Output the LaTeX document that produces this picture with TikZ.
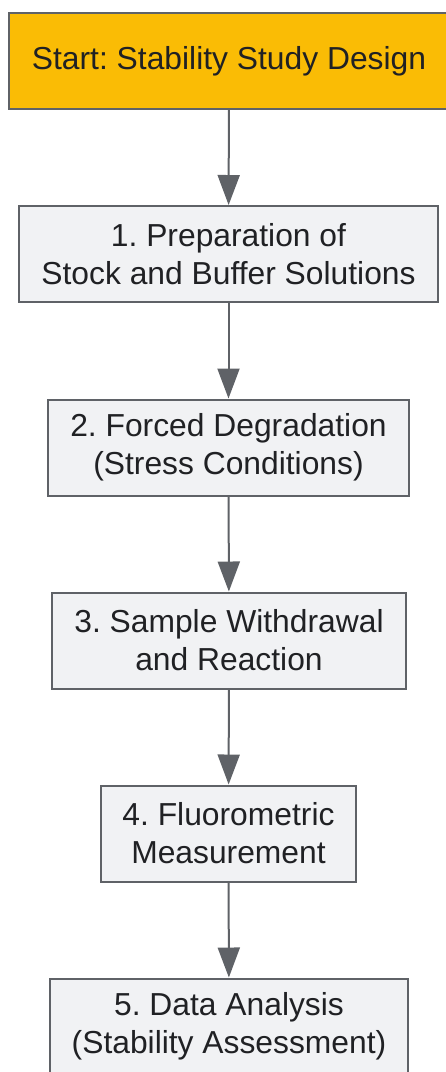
\documentclass[tikz,border=0pt]{standalone}
\usepackage{fontspec}
\setmainfont{Liberation Sans}
\frenchspacing
\definecolor{startfill}{HTML}{FABC05}
\definecolor{boxfill}{HTML}{F1F2F4}
\definecolor{edgegray}{HTML}{5F6267}
\definecolor{textdark}{HTML}{202124}
\usetikzlibrary{arrows.meta}
\begin{document}
\begin{tikzpicture}[
    stepbox/.style={draw=edgegray, line width=2pt, fill=boxfill, align=center, text=textdark,
        minimum height=96pt, inner sep=0pt, font=\fontsize{31.8}{38}\selectfont},
    startbox/.style={stepbox, fill=startfill},
    flow/.style={-{Triangle[length=30pt, width=22pt]}, draw=edgegray, fill=edgegray, line width=2pt}
]
    \useasboundingbox (0,0) rectangle (446pt,-1072pt);
    \node[startbox, minimum width=440pt] (start) at (229pt, -61pt) {Start: Stability Study Design};
    \node[stepbox, minimum width=419pt] (prep) at (228.5pt, -254pt) {1. Preparation of\\Stock and Buffer Solutions};
    \node[stepbox, minimum width=361pt] (forced) at (228.5pt, -447.5pt) {2. Forced Degradation\\(Stress Conditions)};
    \node[stepbox, minimum width=354pt] (sample) at (229pt, -640.5pt) {3. Sample Withdrawal\\and Reaction};
    \node[stepbox, minimum width=255pt] (fluoro) at (228.5pt, -833.5pt) {4. Fluorometric\\Measurement};
    \node[stepbox, minimum width=358pt] (analysis) at (229pt, -1026.5pt) {5. Data Analysis\\(Stability Assessment)};
    \draw[flow] (start) -- (prep);
    \draw[flow] (prep) -- (forced);
    \draw[flow] (forced) -- (sample);
    \draw[flow] (sample) -- (fluoro);
    \draw[flow] (fluoro) -- (analysis);
\end{tikzpicture}
\end{document}
